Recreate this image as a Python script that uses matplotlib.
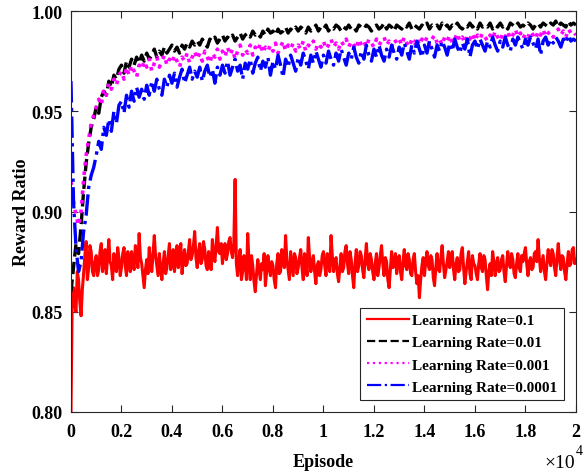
import numpy as np
import matplotlib
matplotlib.use("Agg")
from matplotlib import pyplot as plt

# Reward ratio; the red run is read every 50 episodes,
# the other three every 100 episodes
episodes_red = np.arange(0, 20001, 50)
episodes = np.arange(0, 20001, 100)

lr_0_1 = [
    0.800, 0.858, 0.862, 0.853, 0.850, 0.870, 0.866, 0.855, 0.848, 0.861, 0.869, 0.878, 0.885, 0.866, 0.872, 0.883, 0.880, 0.870, 0.868, 0.875,
    0.878, 0.868, 0.871, 0.880, 0.884, 0.870, 0.874, 0.881, 0.869, 0.877, 0.886, 0.875, 0.873, 0.866, 0.879, 0.872, 0.870, 0.882, 0.877, 0.868,
    0.872, 0.879, 0.882, 0.873, 0.868, 0.880, 0.876, 0.870, 0.880, 0.874, 0.871, 0.883, 0.878, 0.872, 0.889, 0.877, 0.874, 0.868, 0.862, 0.871,
    0.876, 0.869, 0.882, 0.875, 0.870, 0.879, 0.888, 0.878, 0.873, 0.868, 0.879, 0.872, 0.866, 0.874, 0.880, 0.869, 0.872, 0.878, 0.884, 0.871,
    0.875, 0.881, 0.870, 0.877, 0.883, 0.872, 0.877, 0.884, 0.869, 0.876, 0.881, 0.873, 0.874, 0.880, 0.886, 0.876, 0.878, 0.883, 0.890, 0.877,
    0.872, 0.880, 0.884, 0.874, 0.876, 0.885, 0.881, 0.873, 0.871, 0.880, 0.878, 0.871, 0.886, 0.879, 0.875, 0.883, 0.892, 0.880, 0.879, 0.884,
    0.874, 0.881, 0.884, 0.876, 0.879, 0.885, 0.887, 0.880, 0.877, 0.884, 0.916, 0.874, 0.868, 0.876, 0.881, 0.866, 0.870, 0.878, 0.875, 0.866,
    0.889, 0.875, 0.866, 0.878, 0.873, 0.865, 0.860, 0.869, 0.876, 0.871, 0.866, 0.874, 0.871, 0.879, 0.863, 0.870, 0.878, 0.872, 0.868, 0.875,
    0.873, 0.866, 0.862, 0.874, 0.879, 0.869, 0.870, 0.881, 0.876, 0.872, 0.888, 0.876, 0.871, 0.866, 0.880, 0.874, 0.868, 0.879, 0.877, 0.869,
    0.872, 0.877, 0.881, 0.872, 0.866, 0.879, 0.876, 0.868, 0.887, 0.877, 0.870, 0.875, 0.878, 0.870, 0.864, 0.873, 0.875, 0.868, 0.871, 0.878,
    0.880, 0.873, 0.868, 0.879, 0.876, 0.870, 0.888, 0.878, 0.870, 0.875, 0.877, 0.869, 0.865, 0.872, 0.879, 0.870, 0.872, 0.880, 0.883, 0.874,
    0.869, 0.880, 0.876, 0.868, 0.862, 0.874, 0.881, 0.870, 0.873, 0.880, 0.878, 0.871, 0.867, 0.876, 0.884, 0.874, 0.871, 0.879, 0.876, 0.870,
    0.866, 0.874, 0.879, 0.868, 0.872, 0.878, 0.883, 0.874, 0.868, 0.877, 0.875, 0.866, 0.862, 0.871, 0.880, 0.872, 0.873, 0.879, 0.869, 0.875,
    0.878, 0.870, 0.866, 0.875, 0.881, 0.873, 0.871, 0.879, 0.876, 0.869, 0.868, 0.876, 0.879, 0.870, 0.864, 0.868, 0.857, 0.866, 0.873, 0.877,
    0.868, 0.875, 0.880, 0.873, 0.871, 0.878, 0.876, 0.867, 0.863, 0.872, 0.879, 0.871, 0.870, 0.877, 0.883, 0.874, 0.867, 0.871, 0.875, 0.880,
    0.872, 0.877, 0.880, 0.871, 0.866, 0.874, 0.877, 0.870, 0.871, 0.879, 0.882, 0.872, 0.864, 0.870, 0.875, 0.880, 0.869, 0.866, 0.878, 0.874,
    0.873, 0.869, 0.866, 0.874, 0.879, 0.872, 0.870, 0.878, 0.876, 0.868, 0.861, 0.870, 0.874, 0.868, 0.880, 0.875, 0.868, 0.874, 0.877, 0.870,
    0.871, 0.876, 0.878, 0.870, 0.865, 0.873, 0.880, 0.874, 0.872, 0.879, 0.876, 0.869, 0.867, 0.874, 0.879, 0.872, 0.870, 0.878, 0.875, 0.879,
    0.882, 0.874, 0.868, 0.875, 0.877, 0.871, 0.872, 0.879, 0.880, 0.875, 0.886, 0.877, 0.870, 0.874, 0.878, 0.870, 0.866, 0.874, 0.881, 0.876,
    0.873, 0.881, 0.879, 0.872, 0.868, 0.877, 0.884, 0.876, 0.871, 0.878, 0.877, 0.870, 0.866, 0.874, 0.880, 0.873, 0.874, 0.881, 0.882, 0.874,
    0.876,
]

lr_0_01 = [
    0.860, 0.872, 0.884, 0.879, 0.893, 0.910, 0.924, 0.934, 0.942, 0.946,
    0.952, 0.949, 0.957, 0.960, 0.958, 0.965, 0.962, 0.968, 0.966, 0.971,
    0.973, 0.969, 0.975, 0.972, 0.976, 0.973, 0.977, 0.974, 0.978, 0.975,
    0.979, 0.976, 0.978, 0.981, 0.977, 0.980, 0.978, 0.982, 0.979, 0.981,
    0.983, 0.980, 0.982, 0.979, 0.983, 0.981, 0.984, 0.982, 0.985, 0.983,
    0.985, 0.983, 0.986, 0.984, 0.982, 0.986, 0.985, 0.987, 0.984, 0.986,
    0.988, 0.985, 0.987, 0.986, 0.988, 0.985, 0.987, 0.989, 0.986, 0.988,
    0.989, 0.987, 0.990, 0.988, 0.989, 0.987, 0.990, 0.988, 0.991, 0.989,
    0.990, 0.988, 0.991, 0.989, 0.990, 0.992, 0.989, 0.991, 0.990, 0.992,
    0.990, 0.992, 0.991, 0.989, 0.992, 0.990, 0.991, 0.993, 0.990, 0.992,
    0.991, 0.993, 0.990, 0.992, 0.991, 0.993, 0.992, 0.990, 0.992, 0.991,
    0.993, 0.991, 0.992, 0.990, 0.993, 0.992, 0.991, 0.993, 0.992, 0.990,
    0.992, 0.993, 0.991, 0.992, 0.994, 0.991, 0.993, 0.992, 0.990, 0.993,
    0.992, 0.991, 0.993, 0.992, 0.994, 0.991, 0.993, 0.992, 0.991, 0.993,
    0.992, 0.994, 0.991, 0.993, 0.992, 0.993, 0.991, 0.994, 0.992, 0.993,
    0.991, 0.993, 0.992, 0.994, 0.992, 0.991, 0.993, 0.992, 0.994, 0.992,
    0.993, 0.991, 0.994, 0.992, 0.993, 0.992, 0.994, 0.991, 0.993, 0.992,
    0.994, 0.992, 0.993, 0.991, 0.994, 0.993, 0.992, 0.994, 0.992, 0.993,
    0.992, 0.994, 0.993, 0.991, 0.993, 0.994, 0.992, 0.994, 0.993, 0.992,
    0.994, 0.993, 0.995, 0.992, 0.994, 0.993, 0.992, 0.995, 0.993, 0.994,
    0.993,
]

lr_0_001 = [
    0.915, 0.905, 0.898, 0.893, 0.900, 0.916, 0.928, 0.936, 0.944, 0.948,
    0.952, 0.956, 0.953, 0.961, 0.958, 0.964, 0.961, 0.966, 0.963, 0.968,
    0.970, 0.966, 0.972, 0.968, 0.973, 0.970, 0.967, 0.973, 0.971, 0.975,
    0.972, 0.976, 0.970, 0.974, 0.977, 0.972, 0.975, 0.978, 0.973, 0.976,
    0.974, 0.978, 0.975, 0.972, 0.977, 0.975, 0.979, 0.974, 0.977, 0.980,
    0.976, 0.979, 0.975, 0.980, 0.977, 0.974, 0.979, 0.977, 0.981, 0.976,
    0.980, 0.977, 0.982, 0.978, 0.981, 0.976, 0.980, 0.983, 0.978, 0.981,
    0.979, 0.983, 0.978, 0.982, 0.980, 0.984, 0.979, 0.982, 0.980, 0.983,
    0.980, 0.984, 0.979, 0.982, 0.985, 0.980, 0.983, 0.981, 0.984, 0.980,
    0.983, 0.981, 0.985, 0.980, 0.983, 0.982, 0.985, 0.981, 0.984, 0.982,
    0.985, 0.981, 0.983, 0.986, 0.982, 0.984, 0.981, 0.985, 0.983, 0.986,
    0.982, 0.985, 0.983, 0.981, 0.986, 0.983, 0.985, 0.982, 0.986, 0.984,
    0.982, 0.986, 0.983, 0.985, 0.987, 0.983, 0.985, 0.982, 0.986, 0.984,
    0.986, 0.983, 0.987, 0.984, 0.982, 0.986, 0.984, 0.987, 0.983, 0.986,
    0.984, 0.987, 0.983, 0.986, 0.988, 0.984, 0.986, 0.983, 0.987, 0.985,
    0.988, 0.984, 0.986, 0.989, 0.985, 0.987, 0.984, 0.988, 0.986, 0.989,
    0.985, 0.988, 0.986, 0.989, 0.987, 0.985, 0.988, 0.986, 0.990, 0.987,
    0.985, 0.989, 0.987, 0.990, 0.986, 0.988, 0.991, 0.987, 0.989, 0.986,
    0.989, 0.987, 0.990, 0.988, 0.986, 0.990, 0.988, 0.991, 0.987, 0.989,
    0.990, 0.987, 0.989, 0.991, 0.988, 0.990, 0.987, 0.991, 0.989, 0.990,
    0.988,
]

lr_0_0001 = [
    0.965, 0.905, 0.882, 0.870, 0.875, 0.890, 0.898, 0.912, 0.918, 0.922,
    0.928, 0.935, 0.931, 0.942, 0.938, 0.946, 0.940, 0.950, 0.944, 0.953,
    0.955, 0.949, 0.958, 0.952, 0.960, 0.955, 0.962, 0.957, 0.961, 0.956,
    0.963, 0.958, 0.965, 0.960, 0.966, 0.961, 0.958, 0.966, 0.962, 0.968,
    0.964, 0.969, 0.962, 0.967, 0.971, 0.964, 0.968, 0.972, 0.966, 0.970,
    0.967, 0.972, 0.965, 0.970, 0.973, 0.967, 0.971, 0.964, 0.972, 0.968,
    0.973, 0.969, 0.975, 0.968, 0.972, 0.976, 0.970, 0.973, 0.966, 0.974,
    0.971, 0.976, 0.969, 0.974, 0.977, 0.970, 0.975, 0.972, 0.977, 0.968,
    0.975, 0.971, 0.978, 0.973, 0.967, 0.976, 0.972, 0.978, 0.974, 0.970,
    0.977, 0.973, 0.979, 0.975, 0.971, 0.978, 0.974, 0.980, 0.976, 0.972,
    0.978, 0.974, 0.980, 0.976, 0.973, 0.979, 0.975, 0.981, 0.977, 0.973,
    0.979, 0.976, 0.982, 0.977, 0.974, 0.980, 0.976, 0.983, 0.978, 0.975,
    0.981, 0.977, 0.983, 0.978, 0.975, 0.981, 0.977, 0.983, 0.979, 0.976,
    0.982, 0.978, 0.984, 0.980, 0.976, 0.983, 0.979, 0.985, 0.981, 0.977,
    0.983, 0.979, 0.985, 0.981, 0.977, 0.983, 0.980, 0.985, 0.982, 0.978,
    0.984, 0.980, 0.986, 0.982, 0.979, 0.984, 0.981, 0.986, 0.977, 0.983,
    0.985, 0.981, 0.986, 0.983, 0.980, 0.985, 0.982, 0.987, 0.983, 0.980,
    0.985, 0.982, 0.987, 0.983, 0.980, 0.986, 0.983, 0.987, 0.984, 0.981,
    0.986, 0.983, 0.987, 0.984, 0.981, 0.986, 0.978, 0.985, 0.987, 0.983,
    0.986, 0.984, 0.987, 0.985, 0.982, 0.986, 0.984, 0.988, 0.985, 0.986,
    0.985,
]

labels = ["Learning Rate=0.1", "Learning Rate=0.01",
          "Learning Rate=0.001", "Learning Rate=0.0001"]
xtick_labels = ["0", "0.2", "0.4", "0.6", "0.8", "1", "1.2", "1.4", "1.6", "1.8", "2"]
ytick_labels = ["0.80", "0.85", "0.90", "0.95", "1.00"]

plt.rcParams["font.family"] = ["Liberation Serif", "DejaVu Serif"]
plt.rcParams["font.weight"] = "bold"

fig = plt.figure(figsize=(5.88, 4.77), dpi=100)
ax = fig.add_axes([0.1207, 0.1342, 0.8588, 0.8406])

ax.plot(episodes_red, lr_0_1, color="#ff0000", linestyle="-", lw=2.2, label=labels[0])
ax.plot(episodes, lr_0_01, color="black", linestyle="--", lw=2.4, label=labels[1])
ax.plot(episodes, lr_0_001, color="#ff00ff", linestyle=":", lw=2.6, label=labels[2])
ax.plot(episodes, lr_0_0001, color="#0000ff", linestyle="-.", lw=2.4, label=labels[3])

ax.set_xlim(0, 20000)
ax.set_ylim(0.80, 1.00)
ax.set_xticks(np.arange(0, 20001, 2000))
ax.set_xticklabels(xtick_labels)
ax.set_yticks([0.80, 0.85, 0.90, 0.95, 1.00])
ax.set_yticklabels(ytick_labels)
ax.tick_params(direction="in", top=True, right=True, length=5, width=0.8,
               labelsize=13, colors="#262626")
ax.tick_params(axis="x", pad=8)
ax.tick_params(axis="y", pad=6)
for lab in ax.get_xticklabels() + ax.get_yticklabels():
    lab.set_color("black")
    lab.set_fontweight("bold")
for sp in ax.spines.values():
    sp.set_color("#262626")
    sp.set_linewidth(0.8)

ax.set_xlabel("Episode", fontsize=13, fontweight="bold", labelpad=9)
ax.set_ylabel("Reward Ratio", fontsize=13, fontweight="bold", labelpad=1)

# MATLAB style exponent under the right end of the x axis
fig.text(0.978, 0.019, "\u00d710", ha="right", va="baseline",
         fontsize=14, fontweight="normal")
fig.text(0.979, 0.046, "4", ha="left", va="baseline",
         fontsize=10, fontweight="normal")

leg = ax.legend(loc="lower right", fontsize=11, frameon=True, fancybox=False,
                edgecolor="#262626", framealpha=1, handlelength=2.8,
                labelspacing=0.55, borderaxespad=0.8, handletextpad=0.2,
                borderpad=0.4)
leg.get_frame().set_linewidth(0.8)
for line in leg.get_lines():
    line.set_linewidth(1.6)

fig.savefig("out.png", dpi=100)
